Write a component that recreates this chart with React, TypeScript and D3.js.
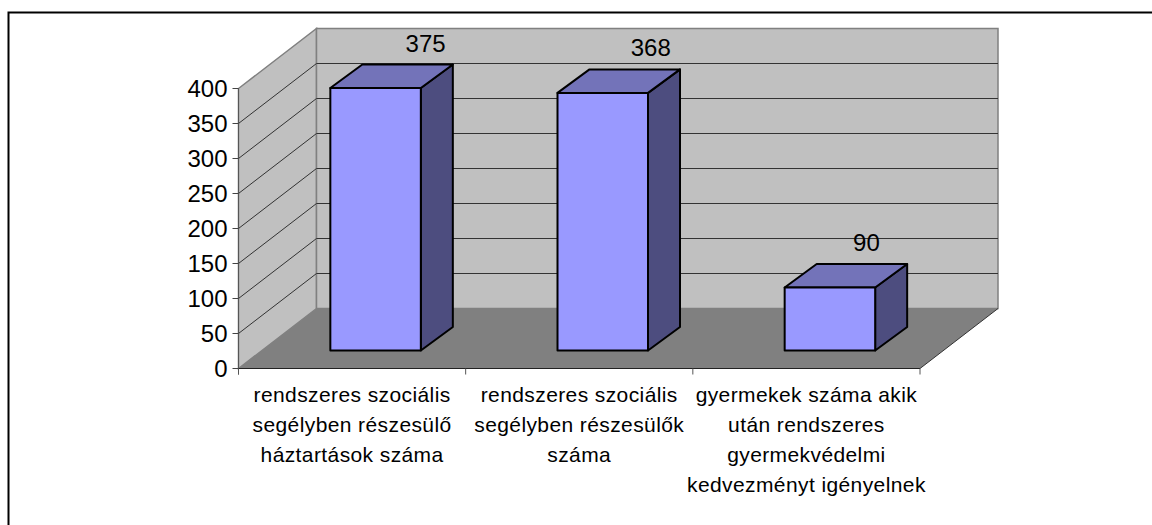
import React from "react";
import * as d3 from "d3";

const categories = [
  ["rendszeres szociális", "segélyben részesülő", "háztartások száma"],
  ["rendszeres szociális", "segélyben részesülők", "száma"],
  ["gyermekek száma akik", "után rendszeres", "gyermekvédelmi", "kedvezményt igényelnek"],
];
const values = [375, 368, 90];
const ticks = [0, 50, 100, 150, 200, 250, 300, 350, 400];

const W = 1152, H = 525;
const x0 = 238.5, x1 = 920, yBase = 368.5, yTop = 88.5;
const depthX = 78, depthY = 60;
const barOffX = 24.5, barOffY = 18;
const barDX = 32, barDY = 23.5;
const labelShift = [50, 48, 36.5];

const y = d3.scaleLinear().domain([0, 400]).range([yBase, yTop]);
const xBand = d3.scaleBand<number>().domain([0, 1, 2]).range([x0, x1]).paddingInner(0).paddingOuter(0);
const font = "'Liberation Sans', Arial, sans-serif";
const poly = (p: number[][]) => p.map(q => q.join(",")).join(" ");

export default function App() {
  const bw = xBand.bandwidth();
  const barW = 90.5;
  return (
    <svg width={W} height={H} style={{ position: "absolute", left: 0, top: 0 }} fontFamily={font}>
      <rect x={0} y={0} width={W} height={H} fill="#fff" />
      {/* frame: only top and left edges fall inside the picture */}
      <polyline points={poly([[8.5, H], [8.5, 12.5], [W, 12.5]])} fill="none" stroke="#000" strokeWidth={2} />
      {/* side wall */}
      <polygon points={poly([[x0, yBase], [x0, yTop], [x0 + depthX, yTop - depthY], [x0 + depthX, yBase - depthY]])} fill="#c0c0c0" stroke="#808080" strokeWidth={1.5} />
      {/* back wall */}
      <polygon points={poly([[x0 + depthX, yBase - depthY], [x0 + depthX, yTop - depthY], [x1 + depthX, yTop - depthY], [x1 + depthX, yBase - depthY]])} fill="#c0c0c0" stroke="#808080" strokeWidth={1.5} />
      {/* floor */}
      <polygon points={poly([[x0, yBase], [x0 + depthX, yBase - depthY], [x1 + depthX, yBase - depthY], [x1, yBase]])} fill="#808080" />
      {/* grid */}
      {ticks.slice(1, -1).map(t => (
        <polyline key={t} points={poly([[x0, y(t)], [x0 + depthX, y(t) - depthY], [x1 + depthX, y(t) - depthY]])} fill="none" stroke="#333" strokeWidth={1} />
      ))}
      <line x1={x1} y1={yBase} x2={x1 + depthX} y2={yBase - depthY} stroke="#333" strokeWidth={1} />
      {/* axes */}
      <line x1={x0} x2={x0} y1={yTop} y2={yBase + 6} stroke="#555" strokeWidth={1} />
      <line x1={x0} x2={x1} y1={yBase} y2={yBase} stroke="#222" strokeWidth={1} />
      {ticks.map(t => (
        <g key={t}>
          <line x1={x0 - 6} x2={x0} y1={y(t)} y2={y(t)} stroke="#444" strokeWidth={1} />
          <text x={x0 - 11} y={y(t)} dy="0.36em" textAnchor="end" fontSize={24} fill="#000">{t}</text>
        </g>
      ))}
      {[0, 1, 2, 3].map(i => {
        const px = x0 + bw * i;
        return <line key={i} x1={px} x2={px} y1={yBase} y2={yBase + 6} stroke="#555" strokeWidth={1} />;
      })}
      {/* bars */}
      {values.map((v, i) => {
        const left = (xBand(i) as number) + (bw - barW) / 2 + barOffX - 1;
        const right = left + barW;
        const bot = y(0) - barOffY;
        const top = y(v) - barOffY;
        return (
          <g key={i} stroke="#000" strokeWidth={2} strokeLinejoin="round">
            <polygon points={poly([[right, top], [right + barDX, top - barDY], [right + barDX, bot - barDY], [right, bot]])} fill="#4d4d7f" />
            <polygon points={poly([[left, top], [left + barDX, top - barDY], [right + barDX, top - barDY], [right, top]])} fill="#7373b9" />
            <rect x={left} y={top} width={barW} height={bot - top} fill="#9999ff" />
            <text x={(left + right) / 2 + labelShift[i]} y={top - barDY - 13} textAnchor="middle" fontSize={24} fill="#000" stroke="none">{v}</text>
          </g>
        );
      })}
      {/* category labels */}
      {categories.map((lines, i) => (
        <text key={i} textAnchor="middle" fontSize={21} letterSpacing={0.4} fill="#000">
          {lines.map((l, j) => (
            <tspan key={j} x={(xBand(i) as number) + bw / 2} y={401.5 + j * 30}>{l}</tspan>
          ))}
        </text>
      ))}
    </svg>
  );
}
